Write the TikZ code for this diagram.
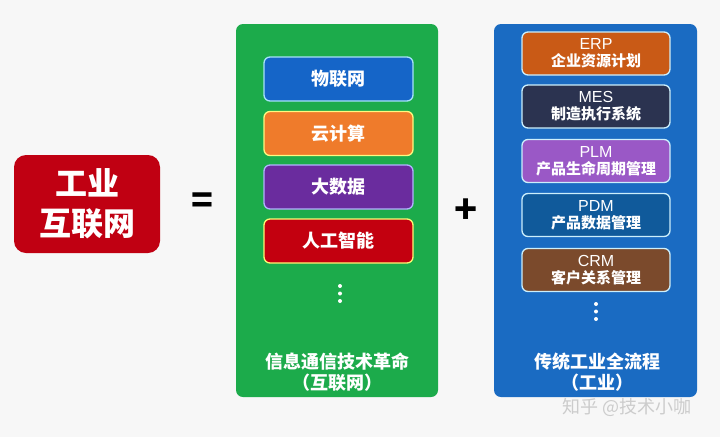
\documentclass[tikz,border=0pt]{standalone}
\usepackage{fontspec}
\setmainfont{Noto Sans CJK SC}
\newfontfamily\latinf{Liberation Sans}
\usetikzlibrary{positioning}
\definecolor{bg}{HTML}{F7F7F7}
\definecolor{redbox}{HTML}{C00012}
\definecolor{greenp}{HTML}{1CAB4B}
\definecolor{bluep}{HTML}{1A6BC2}
\definecolor{iot}{HTML}{1565C8}
\definecolor{cloud}{HTML}{EF7B2B}
\definecolor{bigdata}{HTML}{6A2C9E}
\definecolor{ai}{HTML}{C3000F}
\definecolor{erp}{HTML}{C95A16}
\definecolor{mes}{HTML}{2B3350}
\definecolor{plm}{HTML}{9A58C6}
\definecolor{pdm}{HTML}{105A9B}
\definecolor{crm}{HTML}{7B4A2C}
\newcommand{\twol}[2]{{\latinf\fontsize{16}{18}\selectfont #1}\\[-1pt]{\bfseries #2}}
\tikzset{
  gbox/.style={rounded corners=6pt, line width=1.3pt, minimum width=149pt, minimum height=44pt,
    text=white, font=\fontsize{18}{20}\selectfont\bfseries, inner sep=0pt},
  bbox/.style={rounded corners=6pt, line width=1.3pt, draw=white!80!cyan, minimum width=148pt, minimum height=43pt,
    text=white, font=\fontsize{15}{18}\selectfont, inner sep=0pt, align=center},
  caption/.style={text=white, font=\fontsize{18}{21}\selectfont\bfseries, align=center, inner sep=0pt},
  vdot/.style={circle, fill=white, inner sep=0pt, minimum size=4pt}
}
\begin{document}
\begin{tikzpicture}[x=1pt,y=-1pt]
\fill[bg] (0,0) rectangle (720,437);
\useasboundingbox (0,0) rectangle (720,437);
% left
\node[fill=redbox, rounded corners=12pt, minimum width=146pt, minimum height=98pt, text=white,
  font=\fontsize{32}{40}\selectfont\bfseries, align=center, inner sep=0pt] (iiot) at (87,204) {工业\\互联网};
\node[font=\fontsize{36}{36}\selectfont\bfseries] (eq) at (202,203) {=};
% green panel
\fill[greenp, rounded corners=7pt] (236,24) rectangle (438,397);
\node[gbox, fill=iot, draw=cyan!35!white] (b1) at (338.5,79) {物联网};
\node[gbox, fill=cloud, draw=yellow!50!white] (b2) at (338.5,133.5) {云计算};
\node[gbox, fill=bigdata, draw=blue!30!white] (b3) at (338.5,187) {大数据};
\node[gbox, fill=ai, draw=yellow!55!white] (b4) at (338.5,241) {人工智能};
\node[vdot] (gd1) at (340,286) {};
\node[vdot] (gd2) at (340,293.5) {};
\node[vdot] (gd3) at (340,301) {};
\node[caption] (gcap) at (337,372) {信息通信技术革命\\（互联网）};
% plus
\node[font=\fontsize{38}{38}\selectfont\bfseries] (plus) at (466,211) {+};
% blue panel
\fill[bluep, rounded corners=7pt] (494,24) rectangle (697,397);
\node[bbox, fill=erp] (r1) at (596,53.5) {\twol{ERP}{企业资源计划}};
\node[bbox, fill=mes] (r2) at (596,106.5) {\twol{MES}{制造执行系统}};
\node[bbox, fill=plm] (r3) at (596,161) {\twol{PLM}{产品生命周期管理}};
\node[bbox, fill=pdm] (r4) at (596,215) {\twol{PDM}{产品数据管理}};
\node[bbox, fill=crm] (r5) at (596,270) {\twol{CRM}{客户关系管理}};
\node[vdot] (bd1) at (596,304) {};
\node[vdot] (bd2) at (596,311.5) {};
\node[vdot] (bd3) at (596,319) {};
\node[caption] (bcap) at (597,372) {传统工业全流程\\（工业）};
% watermark
\node[text=white!80!black, font=\fontsize{18}{18}\selectfont, inner sep=0pt] (wm) at (627,407) {知乎 @技术小咖};
\end{tikzpicture}
\end{document}
